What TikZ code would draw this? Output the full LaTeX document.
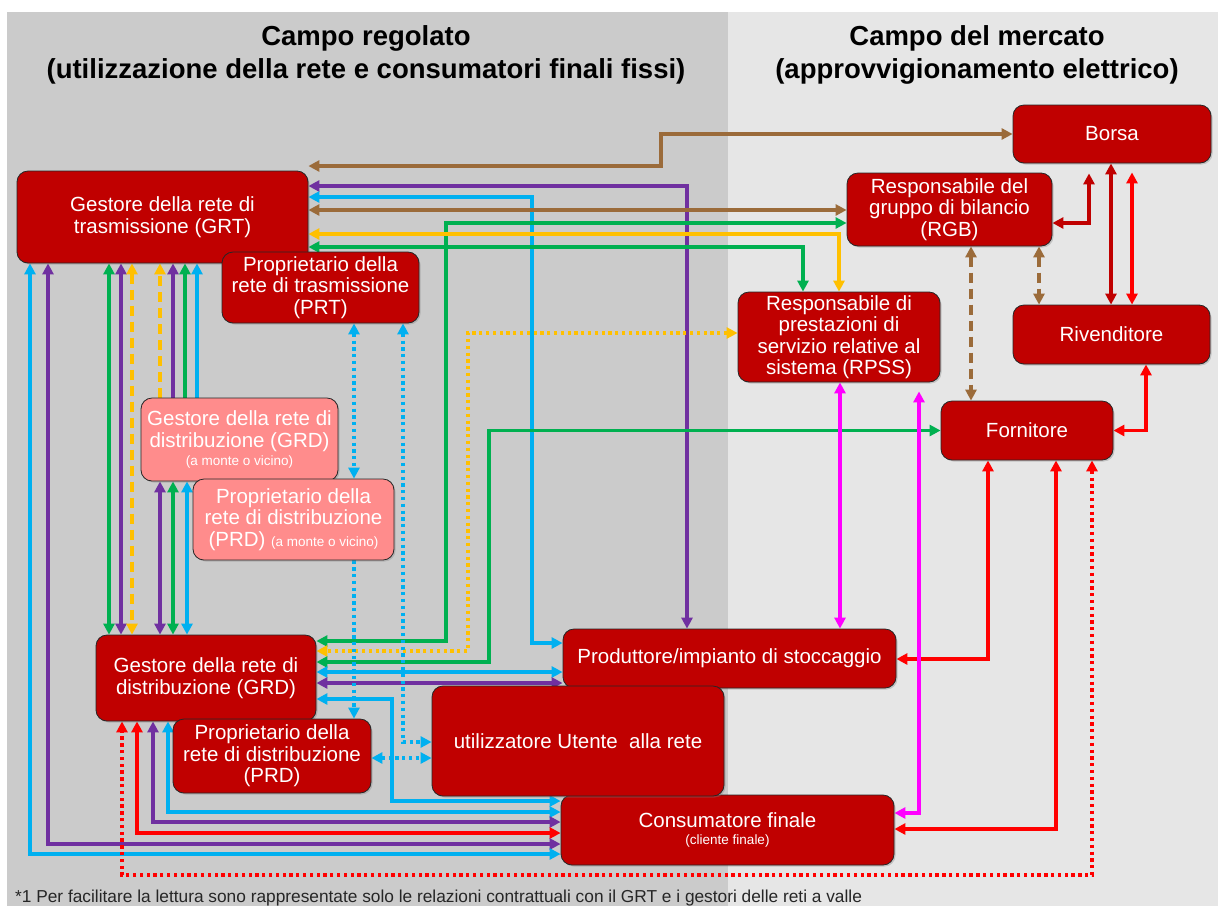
\documentclass[tikz,border=0pt]{standalone}
\usepackage{fontspec}
\setmainfont{Liberation Sans}
\usetikzlibrary{arrows.meta,shadows}
\definecolor{boxred}{HTML}{C00000}
\definecolor{pinkbox}{HTML}{FF8C8C}
\definecolor{leftbg}{HTML}{CBCBCB}
\definecolor{rightbg}{HTML}{E6E6E6}
\definecolor{cyc}{HTML}{00B0F0}
\definecolor{puc}{HTML}{7030A0}
\definecolor{grc}{HTML}{00B050}
\definecolor{yec}{HTML}{FFC000}
\definecolor{brc}{HTML}{9B6B3A}
\definecolor{rdc}{HTML}{FF0000}
\definecolor{drc}{HTML}{C00000}
\definecolor{mgc}{HTML}{FF00FF}
\pgfdeclarelayer{bg}
\pgfdeclarelayer{lines}
\pgfsetlayers{bg,lines,main}
\begin{document}
\begin{tikzpicture}[x=1pt,y=-1pt,
  >={Triangle[length=11pt,width=11pt]},
  box/.style={draw=black!85, line width=0.8pt, fill=boxred, text=white, align=center,
    rounded corners=11pt, inner sep=0pt,
    font=\fontsize{20.5}{21.5}\selectfont,
    drop shadow={shadow xshift=1.5pt,shadow yshift=-1.5pt,opacity=0.35}},
  pbox/.style={box, fill=pinkbox},
  ln/.style={line width=3.3pt},
  cy/.style={ln, draw=cyc},
  pu/.style={ln, draw=puc},
  gr/.style={ln, draw=grc},
  ye/.style={ln, draw=yec},
  br/.style={ln, draw=brc},
  rd/.style={ln, draw=rdc},
  dr/.style={ln, draw=drc},
  mg/.style={ln, draw=mgc},
  dotline/.style={dash pattern=on 3.3pt off 3.5pt},
  dashline/.style={dash pattern=on 10pt off 6pt},
  title/.style={font=\bfseries\fontsize{27.5}{33}\selectfont, align=center, text=black}
]
\useasboundingbox (0,0) rectangle (1218,906);
\begin{pgfonlayer}{bg}
\fill[white] (0,0) rectangle (1218,906);
\fill[leftbg] (7,12) rectangle (728,906);
\fill[rightbg] (728,12) rectangle (1218,906);
\end{pgfonlayer}

% titles
\node[title] (t1) at (366,54.5) {Campo regolato\\(utilizzazione della rete e consumatori finali fissi)};
\node[title] (t2) at (977,54.5) {Campo del mercato\\(approvvigionamento elettrico)};

% boxes
\node[box, minimum width=198pt, minimum height=58pt] (Borsa) at (1112,134) {Borsa};
\node[box, minimum width=205pt, minimum height=73pt] (RGB) at (949.5,209.5) {Responsabile del\\gruppo di bilancio\\(RGB)};
\node[box, minimum width=202pt, minimum height=90pt] (RPSS) at (839,337) {Responsabile di\\prestazioni di\\servizio relative al\\sistema (RPSS)};
\node[box, minimum width=197pt, minimum height=59pt] (Riv) at (1111.5,334.5) {Rivenditore};
\node[box, minimum width=172pt, minimum height=59pt] (Forn) at (1027,430.5) {Fornitore};
\node[box, minimum width=291pt, minimum height=92pt] (GRT) at (162.5,217) {Gestore della rete di\\trasmissione (GRT)};
\node[box, minimum width=197pt, minimum height=71pt] (PRT) at (320.5,287.5) {Proprietario della\\rete di trasmissione\\(PRT)};
\node[pbox, minimum width=197pt, minimum height=83pt] (GRDu) at (239.5,439.5) {Gestore della rete di\\distribuzione (GRD)\\[-3pt]\fontsize{13.5}{14}\selectfont (a monte o vicino)};
\node[pbox, minimum width=201pt, minimum height=81pt] (PRDu) at (293.5,519.5) {Proprietario della\\rete di distribuzione\\(PRD) {\fontsize{13.5}{14}\selectfont (a monte o vicino)}};
\node[box, minimum width=220pt, minimum height=86pt] (GRD) at (206,678) {Gestore della rete di\\distribuzione (GRD)};
\node[box, minimum width=198pt, minimum height=74pt] (PRD) at (272,756) {Proprietario della\\rete di distribuzione\\(PRD)};
\node[box, minimum width=333pt, minimum height=59pt] (Prod) at (729.5,658.5) {Produttore/impianto di stoccaggio};
\node[box, minimum width=333pt, minimum height=70pt] (Cons) at (727.5,830) {Consumatore finale\\[-5pt]\fontsize{13.5}{14}\selectfont (cliente finale)};
\node[box, minimum width=292pt, minimum height=110pt] (Ut) at (578,741) {utilizzatore Utente\ \ alla rete};

% footnote
\node[anchor=west, inner sep=0pt, text=black!85, font=\fontsize{17.3}{19}\selectfont] (foot) at (15,898) {*1 Per facilitare la lettura sono rappresentate solo le relazioni contrattuali con il GRT e i gestori delle reti a valle};

\begin{pgfonlayer}{lines}
% GRT right side
\draw[br,<->] (Borsa.west) -| (661,166) -- (GRT.east |- 0,166);
\draw[pu,<->] (GRT.east |- 0,186) -| (Prod.north -| 687,0);
\draw[cy,<->] (GRT.east |- 0,197) -| (532,643) -- (Prod.west |- 0,643);
\draw[br,<->] (GRT.east |- 0,210) -- (RGB.west |- 0,210);
\draw[gr,<->] (RGB.west |- 0,223) -| (446,641) -- (GRD.east |- 0,641);
\draw[ye,<->] (GRT.east |- 0,234) -| (RPSS.north -| 839,0);
\draw[gr,<->] (GRT.east |- 0,247) -| (RPSS.north -| 803,0);
% GRD right side
\draw[ye,dotline,<->] (RPSS.west |- 0,333) -| (468,651) -- (GRD.east |- 0,651);
\draw[gr,<->] (Forn.west) -| (489,662) -- (GRD.east |- 0,662);
\draw[cy,<->] (GRD.east |- 0,672) -- (Prod.west |- 0,672);
\draw[pu,<->] (GRD.east |- 0,683) -- (Prod.west |- 0,683);
\draw[cy,<->] (GRD.east |- 0,699) -| (392,801) -- (Cons.west |- 0,801);
% owners
\draw[cy,dotline,<->] (PRT.south -| 354,0) -- (PRDu.north -| 354,0);
\draw[cy,dotline,->] (PRDu.south -| 354,0) -- (PRD.north -| 354,0);
\draw[cy,dotline,<->] (PRT.south -| 403,0) |- (Ut.west |- 0,742);
\draw[cy,dotline,<->] (PRD.east |- 0,758) -- (Ut.west |- 0,758);
% GRT - GRD verticals
\draw[gr,<->] (GRT.south -| 109,0) -- (GRD.north -| 109,0);
\draw[pu,<->] (GRT.south -| 121,0) -- (GRD.north -| 121,0);
\draw[ye,dashline,<->] (GRT.south -| 132,0) -- (GRD.north -| 132,0);
% GRT - upstream GRD
\draw[ye,dashline,->] (GRDu.north -| 160,0) -- (GRT.south -| 160,0);
\draw[pu,->] (GRDu.north -| 173,0) -- (GRT.south -| 173,0);
\draw[gr,->] (GRDu.north -| 185,0) -- (GRT.south -| 185,0);
\draw[cy,->] (GRDu.north -| 197,0) -- (GRT.south -| 197,0);
% upstream GRD - GRD
\draw[pu,<->] (GRDu.south -| 160,0) -- (GRD.north -| 160,0);
\draw[gr,<->] (GRDu.south -| 173,0) -- (GRD.north -| 173,0);
\draw[cy,<->] (GRDu.south -| 187,0) -- (GRD.north -| 187,0);
% to consumer along the bottom
\draw[cy,<->] (GRD.south -| 168,0) |- (Cons.west |- 0,812);
\draw[pu,<->] (GRD.south -| 153,0) |- (Cons.west |- 0,822);
\draw[rd,<->] (GRD.south -| 137,0) |- (Cons.west |- 0,833);
\draw[pu,<->] (GRT.south -| 48,0) |- (Cons.west |- 0,844);
\draw[cy,<->] (GRT.south -| 30,0) |- (Cons.west |- 0,854);
\draw[rd,dotline,<->] (Forn.south -| 1092,0) |- (122,875) -- (GRD.south -| 122,0);
% market side
\draw[rd,<->] (Forn.south -| 988,0) |- (Prod.east |- 0,659);
\draw[rd,<->] (Forn.south -| 1056,0) |- (Cons.east |- 0,829);
\draw[mg,<->] (RPSS.south -| 840,0) -- (Prod.north -| 840,0);
\draw[mg,<->,shorten <=9pt] (RPSS.south -| 919,0) |- (Cons.east |- 0,813);
\draw[rd,<->] (Forn.east) -| (Riv.south -| 1146,0);
\draw[dr,<->,shorten >=10pt] (RGB.east |- 0,223) -| (Borsa.south -| 1089,0);
\draw[dr,<->] (Borsa.south -| 1111,0) -- (Riv.north -| 1111,0);
\draw[rd,<->,shorten <=9pt] (Borsa.south -| 1132,0) -- (Riv.north -| 1132,0);
\draw[br,dashline,<->] (RGB.south -| 1039,0) -- (Riv.north -| 1039,0);
\draw[br,dashline,<->] (RGB.south -| 971,0) -- (Forn.north -| 971,0);
\end{pgfonlayer}
\end{tikzpicture}
\end{document}
